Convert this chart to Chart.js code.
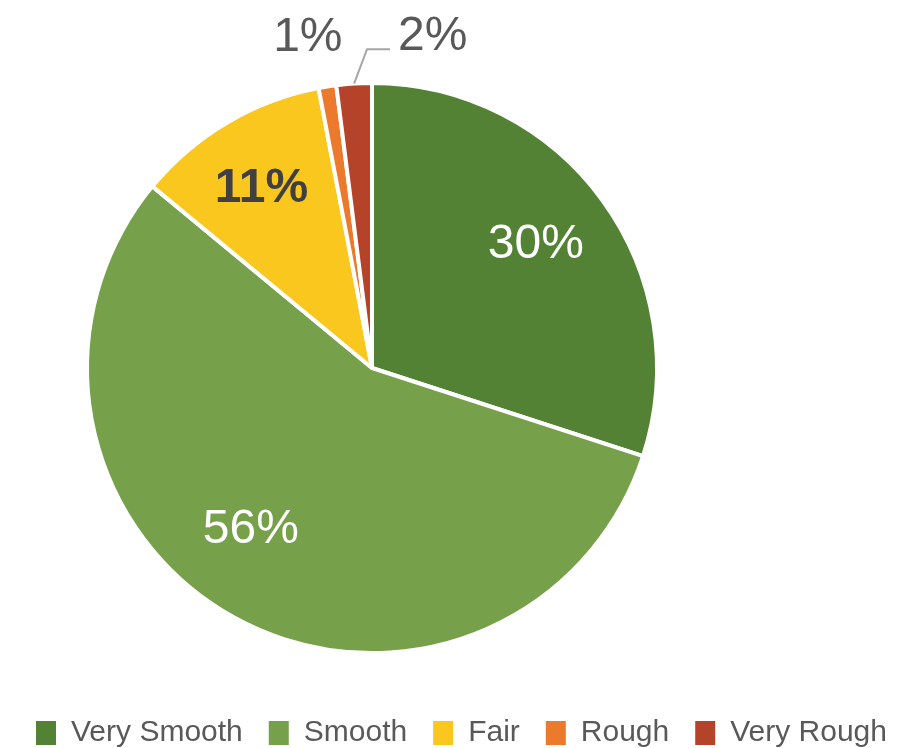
<!DOCTYPE html>
<html>
<head>
<meta charset="utf-8">
<script src="https://cdn.jsdelivr.net/npm/chart.js@4.4.1/dist/chart.umd.min.js"></script>
<style>
  html, body { margin: 0; padding: 0; background: #fff; }
  #wrap { width: 923px; height: 748px; position: relative; }
</style>
</head>
<body>
<div id="wrap"><canvas id="chart"></canvas></div>
<script>
// data
const categories = ['Very Smooth', 'Smooth', 'Fair', 'Rough', 'Very Rough'];
const shares = [30, 56, 11, 1, 2];
const shareLabels = ['30%', '56%', '11%', '1%', '2%'];

const sliceColors = ['#548235', '#77A04A', '#FAC71F', '#EC7A2D', '#B4432A'];

// label placement relative to each arc (fraction of radius, extra turn in degrees)
const LABELS = {
  dist: [0.72, 0.71, 0.74, 1.18, 1.18],
  turn: [-1, 8, -1, -2, 14],
  color: ['#ffffff', '#ffffff', '#404040', '#595959', '#595959'],
  weight: ['normal', 'normal', 'bold', 'normal', 'normal'],
  leader: [false, false, false, false, true]
};

const FONT = '"Liberation Sans", Arial, sans-serif';

// empty box on the right so the pie sits left of centre while the legend spans the full width
const rightGap = {
  id: 'rightGap',
  beforeInit(chart) {
    Chart.layouts.addBox(chart, {
      position: 'right',
      weight: 0,
      fullSize: false,
      options: {},
      left: 0, top: 0, right: 0, bottom: 0, width: 0, height: 0,
      isHorizontal() { return false; },
      update(maxWidth, maxHeight) {
        this.width = 179;
        this.height = maxHeight;
      },
      draw() {}
    });
  }
};

const sliceLabels = {
  id: 'sliceLabels',
  afterDatasetsDraw(chart) {
    const { ctx } = chart;
    const arcs = chart.getDatasetMeta(0).data;
    ctx.save();
    ctx.textAlign = 'center';
    ctx.textBaseline = 'middle';
    arcs.forEach((arc, i) => {
      const { x, y, startAngle, endAngle, outerRadius } =
        arc.getProps(['x', 'y', 'startAngle', 'endAngle', 'outerRadius'], true);
      const mid = (startAngle + endAngle) / 2;
      const a = mid + LABELS.turn[i] * Math.PI / 180;
      const r = outerRadius * LABELS.dist[i];
      const lx = x + Math.cos(a) * r;
      const ly = y + Math.sin(a) * r;
      ctx.font = `${LABELS.weight[i]} 48px ${FONT}`;
      if (LABELS.leader[i]) {
        const w = ctx.measureText(shareLabels[i]).width;
        const ex = lx - w / 2 - 8;
        const ey = ly + 12;
        ctx.beginPath();
        ctx.moveTo(x + Math.cos(mid) * outerRadius, y + Math.sin(mid) * outerRadius);
        ctx.lineTo(ex - 23, ey);
        ctx.lineTo(ex, ey);
        ctx.strokeStyle = '#A6A6A6';
        ctx.lineWidth = 2;
        ctx.stroke();
      }
      ctx.fillStyle = LABELS.color[i];
      ctx.fillText(shareLabels[i], lx, ly);
    });
    ctx.restore();
  }
};

new Chart(document.getElementById('chart'), {
  type: 'pie',
  data: {
    labels: categories,
    datasets: [{
      data: shares,
      backgroundColor: sliceColors,
      borderColor: '#ffffff',
      borderWidth: 4,
      radius: 285
    }]
  },
  options: {
    responsive: true,
    maintainAspectRatio: false,
    animation: false,
    layout: { padding: { top: 44, bottom: -10, left: 0, right: 0 } },
    plugins: {
      tooltip: { enabled: false },
      legend: {
        position: 'bottom',
        labels: {
          boxWidth: 20,
          boxHeight: 24,
          padding: 26,
          color: '#595959',
          font: { family: FONT, size: 30 },
          generateLabels(chart) {
            const base = Chart.overrides.doughnut.plugins.legend.labels.generateLabels(chart);
            return base.map((item) => ({ ...item, lineWidth: 0 }));
          }
        }
      }
    }
  },
  plugins: [rightGap, sliceLabels]
});
</script>
</body>
</html>
